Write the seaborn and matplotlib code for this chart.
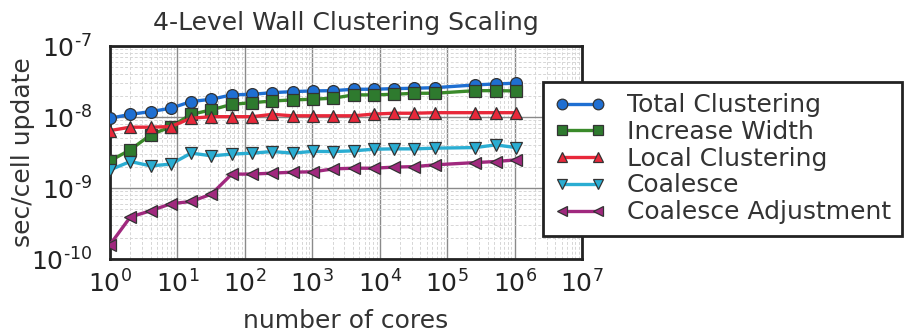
import numpy as np
import pandas as pd
import matplotlib
matplotlib.use("Agg")
import matplotlib.pyplot as plt
import seaborn as sns

# Core counts: powers of two from 1 to 2^20 (2^17 not measured)
cores = [2**k for k in list(range(0, 17)) + [18, 19, 20]]

total_clustering = [9.6e-9, 1.09e-8, 1.19e-8, 1.33e-8, 1.65e-8, 1.78e-8, 2.05e-8,
                    2.09e-8, 2.20e-8, 2.28e-8, 2.33e-8, 2.35e-8, 2.46e-8, 2.46e-8,
                    2.51e-8, 2.54e-8, 2.59e-8, 2.83e-8, 2.92e-8, 2.99e-8]
increase_width = [2.41e-9, 3.45e-9, 5.6e-9, 7.3e-9, 1.09e-8, 1.26e-8, 1.51e-8,
                  1.59e-8, 1.68e-8, 1.74e-8, 1.78e-8, 1.84e-8, 2.05e-8, 2.05e-8,
                  2.09e-8, 2.16e-8, 2.16e-8, 2.35e-8, 2.35e-8, 2.33e-8]
local_clustering = [6.44e-9, 7.19e-9, 7.19e-9, 7.33e-9, 9.62e-9, 1.01e-8, 1.01e-8,
                    1.01e-8, 1.09e-8, 1.04e-8, 1.04e-8, 1.04e-8, 1.04e-8, 1.10e-8,
                    1.13e-8, 1.13e-8, 1.15e-8, 1.15e-8, 1.15e-8, 1.15e-8]
coalesce = [1.80e-9, 2.36e-9, 2.05e-9, 2.17e-9, 3.10e-9, 2.84e-9, 3.00e-9,
            3.10e-9, 3.26e-9, 3.10e-9, 3.28e-9, 3.26e-9, 3.34e-9, 3.52e-9,
            3.56e-9, 3.56e-9, 3.64e-9, 3.71e-9, 4.05e-9, 3.71e-9]
coalesce_adjustment = [1.59e-10, 3.9e-10, 4.78e-10, 6.0e-10, 6.46e-10, 8.2e-10, 1.57e-9,
                       1.57e-9, 1.62e-9, 1.67e-9, 1.69e-9, 1.86e-9, 1.90e-9, 1.90e-9,
                       1.97e-9, 2.00e-9, 2.12e-9, 2.28e-9, 2.36e-9, 2.49e-9]

series_names = ["Total Clustering", "Increase Width", "Local Clustering",
                "Coalesce", "Coalesce Adjustment"]
series_values = [total_clustering, increase_width, local_clustering,
                 coalesce, coalesce_adjustment]

line_colors = ["#1f6fd2", "#3a8a2a", "#e8283a", "#2aadd2", "#a0287e"]
face_colors = ["#1f6fd2", "#2e7a2e", "#e8283a", "#2aadd2", "#a0287e"]
marker_shapes = ["o", "s", "^", "v", "<"]

df = pd.DataFrame({
    "cores": np.tile(cores, len(series_names)),
    "time": np.concatenate(series_values),
    "series": np.repeat(series_names, len(cores)),
})

sns.set_style("white")
plt.rcParams["font.family"] = ["DejaVu Sans"]

fig = plt.figure(figsize=(9.07, 3.35), dpi=100)
ax = fig.add_axes([110 / 907, 1 - 259 / 335, 472 / 907, 213 / 335])

for name, lc, fc, mk in zip(series_names, line_colors, face_colors, marker_shapes):
    sub = df[df["series"] == name]
    sns.lineplot(data=sub, x="cores", y="time", ax=ax, color=lc, linewidth=2.4,
                 marker=mk, markersize=8.5, markerfacecolor=fc,
                 markeredgecolor="#333333", markeredgewidth=0.9,
                 label=name, errorbar=None, legend=False, zorder=3)

ax.set_xscale("log")
ax.set_yscale("log")
ax.set_xlim(1, 1e7)
ax.set_ylim(1e-10, 1e-7)


def power_label(v, pos):
    # 10^n labels with a plain hyphen for negative exponents
    n = int(round(np.log10(v)))
    if n < 0:
        return r"$\mathdefault{10^{\text{-}%d}}$" % (-n)
    return r"$\mathdefault{10^{%d}}$" % n


ax.xaxis.set_major_locator(matplotlib.ticker.LogLocator(base=10, numticks=20))
ax.xaxis.set_minor_locator(matplotlib.ticker.LogLocator(base=10, subs=np.arange(2, 10), numticks=20))
ax.yaxis.set_major_locator(matplotlib.ticker.LogLocator(base=10, numticks=20))
ax.yaxis.set_minor_locator(matplotlib.ticker.LogLocator(base=10, subs=np.arange(2, 10), numticks=20))
ax.xaxis.set_major_formatter(matplotlib.ticker.FuncFormatter(power_label))
ax.yaxis.set_major_formatter(matplotlib.ticker.FuncFormatter(power_label))
ax.xaxis.set_minor_formatter(matplotlib.ticker.NullFormatter())
ax.yaxis.set_minor_formatter(matplotlib.ticker.NullFormatter())

ax.grid(True, which="major", color="#8a8a8a", linewidth=1.0, linestyle="-", zorder=0)
ax.grid(True, which="minor", color="#d6d6d6", linewidth=0.7, linestyle=(0, (3, 2)), zorder=0)
ax.set_axisbelow(True)

ax.tick_params(axis="both", which="major", direction="in", length=6, width=1.2,
               labelsize=18, colors="#222222")
ax.tick_params(axis="x", which="major", pad=8)
ax.tick_params(axis="y", which="major", pad=13)
ax.tick_params(axis="both", which="minor", direction="in", length=3.5, width=0.9)
ax.tick_params(top=False, right=False, which="both")

for side in ax.spines.values():
    side.set_linewidth(2.0)
    side.set_color("#222222")

ax.set_xlabel("number of cores", fontsize=18, color="#333333")
ax.set_ylabel("sec/cell update", fontsize=18, color="#333333")
ax.xaxis.set_label_coords((346 - 110) / 472, (259 - 309) / 213)
ax.yaxis.set_label_coords((35 - 110) / 472, 0.5)

fig.text(346 / 907, 1 - 23 / 335, "4-Level Wall Clustering Scaling",
         ha="center", va="center", fontsize=18, color="#333333")

handles, labels = ax.get_legend_handles_labels()
leg = fig.legend(handles, labels, loc="upper left",
                 bbox_to_anchor=(543 / 907, 1 - 82 / 335), borderaxespad=0,
                 fontsize=18, frameon=True, fancybox=False, framealpha=1,
                 edgecolor="#222222", handlelength=2.06, handletextpad=0.85,
                 labelspacing=0.11, borderpad=0.45, numpoints=2, markerscale=0.9)
leg.get_frame().set_linewidth(2.0)
for t in leg.get_texts():
    t.set_color("#333333")

fig.savefig("out.png", dpi=100)
